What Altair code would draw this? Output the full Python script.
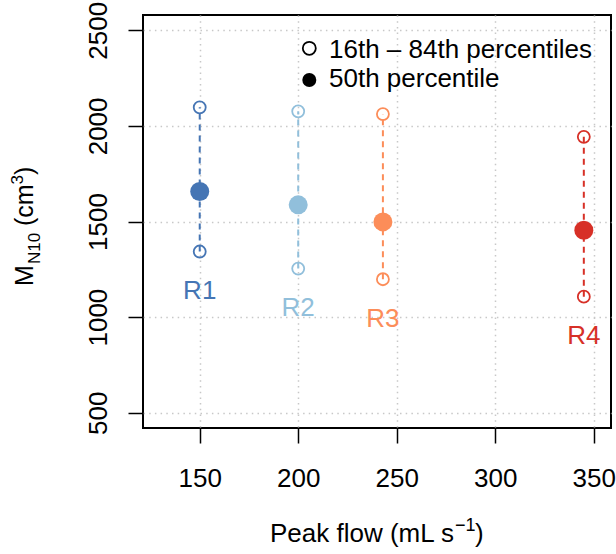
import altair as alt
import pandas as pd

# ---- data ----
regions = ["R1", "R2", "R3", "R4"]
peak_flow = [150, 200, 243, 345]
p50 = [1657, 1587, 1498, 1454]
p16 = [1343, 1254, 1198, 1107]
p84 = [2097, 2076, 2062, 1943]
colors = ["#4575b4", "#91bfdb", "#fc8d59", "#d73027"]

x_ticks = [150, 200, 250, 300, 350]
y_ticks = [500, 1000, 1500, 2000, 2500]
x_domain = [121.2, 358.8]
y_domain = [420, 2580]

legend_labels = ["16th \u2013 84th percentiles", "50th percentile"]
x_title_parts = ["Peak flow (mL s", "\u22121", ")"]
y_title_parts = ["M", "N10", "(cm", "3", ")"]

FONT = "Liberation Sans"
W, H = 468, 413

df = pd.DataFrame({"region": regions, "flow": peak_flow,
                   "p50": p50, "p16": p16, "p84": p84})

xenc = alt.X("flow:Q",
             scale=alt.Scale(domain=x_domain, nice=False, zero=False),
             axis=alt.Axis(values=x_ticks, title=None, domain=False, format="d",
                           tickSize=15, tickWidth=1.5, tickColor="black",
                           labelFont=FONT, labelFontSize=26, labelColor="black",
                           labelBaseline="alphabetic", labelPadding=43,
                           labelOverlap=False, labelFlush=False,
                           grid=True, gridColor="#c8c8c8", gridWidth=1.5,
                           gridDash=[1.5, 4.2]))
color = alt.Color("region:N", scale=alt.Scale(domain=regions, range=colors),
                  legend=None)

def yenc(field):
    return alt.Y(f"{field}:Q",
                 scale=alt.Scale(domain=y_domain, nice=False, zero=False),
                 axis=alt.Axis(values=y_ticks, title=None, domain=False, format="d",
                               tickSize=15, tickWidth=1.5, tickColor="black",
                               labelFont=FONT, labelFontSize=26, labelColor="black",
                               labelAngle=270, labelAlign="center",
                               labelBaseline="alphabetic", labelPadding=22,
                               labelOverlap=False, labelFlush=False,
                               grid=True, gridColor="#c8c8c8", gridWidth=1.5,
                               gridDash=[1.5, 4.2]))

base = alt.Chart(df)

rules = base.mark_rule(strokeWidth=2, strokeDash=[6, 5]).encode(
    x=xenc, y=yenc("p16"), y2="p84:Q", color=color)

lo = base.mark_point(shape="circle", filled=False, size=144, strokeWidth=1.8,
                     opacity=1).encode(x=xenc, y=yenc("p16"), color=color)
hi = base.mark_point(shape="circle", filled=False, size=144, strokeWidth=1.8,
                     opacity=1).encode(x=xenc, y=yenc("p84"), color=color)
med = base.mark_circle(size=361, opacity=1).encode(
    x=xenc, y=yenc("p50"), color=color)

labels = base.mark_text(font=FONT, fontSize=26, baseline="alphabetic",
                        align="center", dy=47.5).encode(
    x=xenc, y=yenc("p16"), text="region:N", color=color)


def txt(s, x, y, size=26, angle=0, align="left"):
    return alt.Chart(pd.DataFrame({"t": [s]})).mark_text(
        font=FONT, fontSize=size, baseline="alphabetic", align=align,
        angle=angle, color="black").encode(
        text="t:N", x=alt.value(x), y=alt.value(y))


def sym(x, y, filled, size):
    return alt.Chart(pd.DataFrame({"t": [0]})).mark_point(
        shape="circle", filled=filled, size=size, strokeWidth=1.8,
        color="black", opacity=1).encode(x=alt.value(x), y=alt.value(y))


# legend
legend = [
    sym(166.3, 33.3, False, 169),
    sym(166.3, 65.0, True, 196),
    txt(legend_labels[0], 186, 42.7),
    txt(legend_labels[1], 186, 71.7),
]

# x title with superscript
xt = [
    txt(x_title_parts[0], 127, 526.7, 26),
    txt(x_title_parts[1], 312, 516, 18),
    txt(x_title_parts[2], 332, 526.7, 26),
]

# y title with subscript / superscript (rotated)
yt = [
    txt(y_title_parts[0], -110, 271, 25, 270),
    txt(y_title_parts[1], -103.5, 249, 17, 270),
    txt(y_title_parts[2], -110, 211, 25, 270),
    txt(y_title_parts[3], -120.5, 169.5, 17, 270),
    txt(y_title_parts[4], -110, 160, 25, 270),
]

chart = alt.layer(rules, lo, hi, med, labels, *legend, *xt, *yt).properties(
    width=W, height=H,
    autosize=alt.AutoSizeParams(type="none"),
    padding={"left": 143, "top": 15, "right": 5, "bottom": 126},
    background="white",
).configure_view(stroke="black", strokeWidth=2)

chart.save("out.html", embed_options={"renderer": "svg", "actions": False})
